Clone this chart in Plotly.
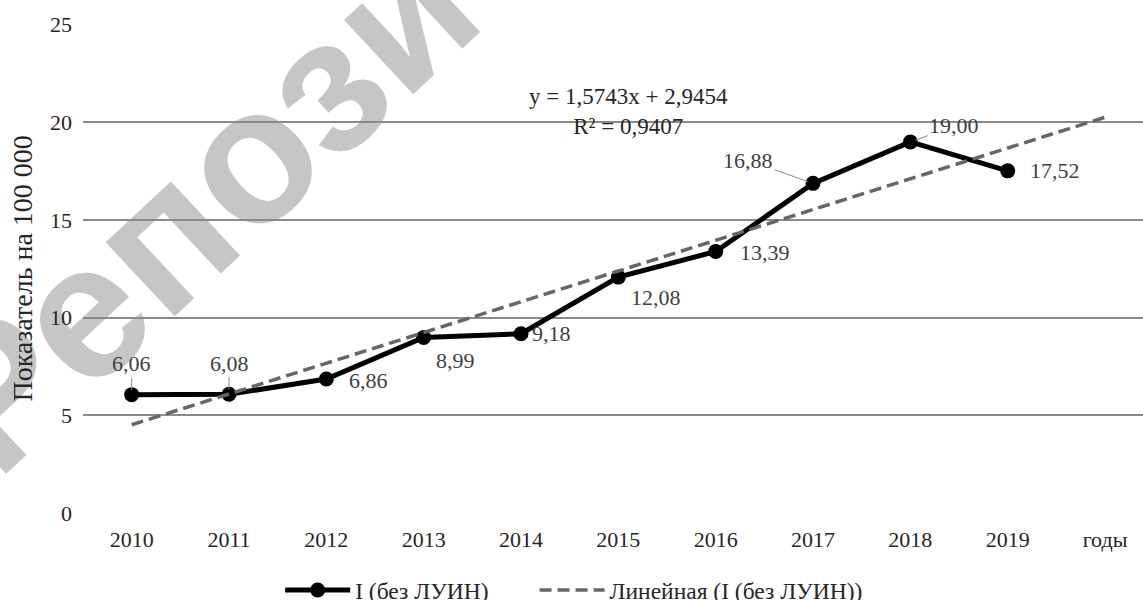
import plotly.graph_objects as go

# ---- data ----
years = ["2010", "2011", "2012", "2013", "2014", "2015", "2016", "2017", "2018", "2019"]
values = [6.06, 6.08, 6.86, 8.99, 9.18, 12.08, 13.39, 16.88, 19.00, 17.52]
value_labels = ["6,06", "6,08", "6,86", "8,99", "9,18", "12,08", "13,39", "16,88", "19,00", "17,52"]
x_ticklabels = years + ["годы"]
trend_slope = 1.5743
trend_intercept = 2.9454
trend_r2 = "0,9407"
trend_periods = [1, 11]   # trendline drawn from period 1 to period 11 (forecast 1 ahead)
y_ticks = [0, 5, 10, 15, 20, 25]

series_name = "I (без ЛУИН)"
trend_name = "Линейная (I (без ЛУИН))"
y_title = "Показатель на 100 000"
watermark = "Репозиторий"

FONT = "Liberation Serif"
TXT = "#262626"
LBL = "#404040"

xpos = list(range(len(years)))
trend_x = [p - 1 for p in trend_periods]
trend_y = [trend_slope * p + trend_intercept for p in trend_periods]

fig = go.Figure()

fig.add_trace(go.Scatter(
    x=xpos, y=values, mode="lines+markers", name=series_name, legend="legend",
    line=dict(color="#000000", width=5),
    marker=dict(color="#000000", size=15),
))
fig.add_trace(go.Scatter(
    x=trend_x, y=trend_y, mode="lines", name=trend_name, legend="legend2",
    line=dict(color="#666666", width=3.5, dash="12px,6px"),
))

# label placement (style): (mode, dx, dy) in screen pixels (dy positive = down)
placement = [
    ("arrow", 0, -31), ("arrow", 0, -31), ("shift", 42, 1), ("shift", 32, 23),
    ("shift", 30, 0), ("shift", 38, 20), ("shift", 49, 1), ("arrow", -65, -23),
    ("arrow", 44, -16), ("shift", 47, 0),
]
for xi, v, t, (mode, dx, dy) in zip(xpos, values, value_labels, placement):
    if mode == "arrow":
        fig.add_annotation(x=xi, y=v, xref="x", yref="y", text=t, showarrow=True,
                           ax=dx, ay=dy, arrowhead=0, arrowwidth=1, arrowcolor="#8c8c8c",
                           standoff=5, font=dict(family=FONT, size=22, color=LBL))
    else:
        fig.add_annotation(x=xi, y=v, xref="x", yref="y", text=t, showarrow=False,
                           xshift=dx, yshift=-dy, font=dict(family=FONT, size=22, color=LBL))

# trendline equation
fig.add_annotation(x=0.515, y=0.882, xref="paper", yref="paper",
                   text=f"y = {str(trend_slope).replace('.', ',')}x + {str(trend_intercept).replace('.', ',')}<br>R² = {trend_r2}",
                   showarrow=False, align="center",
                   font=dict(family=FONT, size=23, color=TXT))

# y-axis title
fig.add_annotation(x=-0.0575, y=0.5, xref="paper", yref="paper", text=y_title,
                   textangle=-90, showarrow=False, xanchor="center", yanchor="middle",
                   font=dict(family=FONT, size=28, color=TXT))

# watermark behind the grid
fig.add_shape(type="rect", xref="paper", yref="paper",
              x0=0.2857, x1=0.2957, y0=1.046, y1=1.056, layer="below",
              line=dict(width=0), fillcolor="rgba(0,0,0,0)",
              label=dict(text=watermark, textangle=-43, textposition="middle center",
                         font=dict(family="Liberation Sans", size=192, color="#c6c6c6", weight="bold")))

legend_common = dict(orientation="h", yanchor="middle", y=-0.158, xanchor="left",
                     font=dict(family=FONT, size=23.5, color=TXT), itemwidth=65,
                     bgcolor="rgba(0,0,0,0)")

fig.update_layout(
    width=1143, height=600,
    margin=dict(l=83, r=0, t=24, b=87, autoexpand=False),
    paper_bgcolor="#ffffff", plot_bgcolor="rgba(0,0,0,0)",
    font=dict(family=FONT, size=22, color=TXT),
    showlegend=True,
    legend=dict(x=0.186, **legend_common),
    legend2=dict(x=0.426, **legend_common),
    xaxis=dict(range=[-0.5, 10.39], tickvals=list(range(len(x_ticklabels))), ticktext=x_ticklabels,
               showgrid=False, zeroline=False, showline=False, ticks="",
               ticklabelstandoff=11, tickfont=dict(family=FONT, size=22, color=TXT)),
    yaxis=dict(range=[0, 25.04], tickvals=y_ticks, showgrid=True, gridcolor="#8a8a8a", gridwidth=1.5,
               zeroline=False, showline=False, ticks="", ticklabelstandoff=10,
               tickfont=dict(family=FONT, size=22, color=TXT)),
)

fig.write_html("out.html", config={"displayModeBar": False},
               post_script="document.body.style.margin='0px';document.body.style.padding='0px';")
